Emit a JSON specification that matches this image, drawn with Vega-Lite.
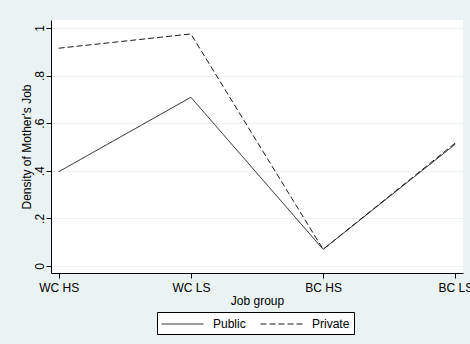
{
  "$schema": "https://vega.github.io/schema/vega-lite/v6.json",
  "width": 412,
  "height": 253,
  "autosize": {"type": "none"},
  "padding": {"left": 51, "top": 20, "right": 7, "bottom": 71},
  "background": "#eaf2f3",
  "config": {
    "font": "Liberation Sans",
    "view": {"fill": "white", "stroke": null},
    "axis": {
      "domainColor": "#000000",
      "tickColor": "#000000",
      "tickSize": 5,
      "labelColor": "#000000",
      "titleColor": "#000000",
      "labelFontSize": 12,
      "titleFontSize": 12,
      "titleFontWeight": "normal"
    }
  },
  "data": {
    "values": [
      {"group": "WC HS", "sector": "Public", "density": 0.396},
      {"group": "WC LS", "sector": "Public", "density": 0.709},
      {"group": "BC HS", "sector": "Public", "density": 0.070},
      {"group": "BC LS", "sector": "Public", "density": 0.512},
      {"group": "WC HS", "sector": "Private", "density": 0.915},
      {"group": "WC LS", "sector": "Private", "density": 0.975},
      {"group": "BC HS", "sector": "Private", "density": 0.070},
      {"group": "BC LS", "sector": "Private", "density": 0.517}
    ]
  },
  "mark": {"type": "line", "color": "#1a1a1a", "strokeWidth": 1, "clip": false},
  "encoding": {
    "x": {
      "field": "group",
      "type": "ordinal",
      "sort": ["WC HS", "WC LS", "BC HS", "BC LS"],
      "scale": {"type": "point", "padding": 0.058},
      "axis": {
        "title": "Job group",
        "labelAngle": 0,
        "labelPadding": 4,
        "titlePadding": 2,
        "grid": false
      }
    },
    "y": {
      "field": "density",
      "type": "quantitative",
      "scale": {"domain": [-0.0294, 1.0336], "nice": false, "zero": false},
      "axis": {
        "title": "Density of Mother's Job",
        "values": [0, 0.2, 0.4, 0.6, 0.8, 1],
        "labelExpr": "datum.value == 0 ? '0' : datum.value == 1 ? '1' : replace(format(datum.value, '.1f'), '0.', '.')",
        "labelAngle": 270,
        "labelAlign": "center",
        "labelBaseline": "alphabetic",
        "labelPadding": 3,
        "titlePadding": 0,
        "grid": true,
        "gridColor": "#eaf2f3",
        "gridWidth": 1
      }
    },
    "strokeDash": {
      "field": "sector",
      "type": "nominal",
      "sort": ["Public", "Private"],
      "scale": {"domain": ["Public", "Private"], "range": [[1, 0], [6, 3]]},
      "legend": {
        "title": null,
        "orient": "none",
        "legendX": 106,
        "legendY": 292,
        "direction": "horizontal",
        "columns": 2,
        "symbolType": "M-2.8,0H2.8",
        "symbolSize": 225,
        "symbolOffset": 13.5,
        "symbolStrokeColor": "#1a1a1a",
        "symbolFillColor": "transparent",
        "symbolStrokeWidth": 1,
        "labelFontSize": 12,
        "labelColor": "#000000",
        "labelOffset": 22.5,
        "columnPadding": 12,
        "padding": 4,
        "fillColor": "white",
        "strokeColor": "#000000"
      }
    }
  }
}
